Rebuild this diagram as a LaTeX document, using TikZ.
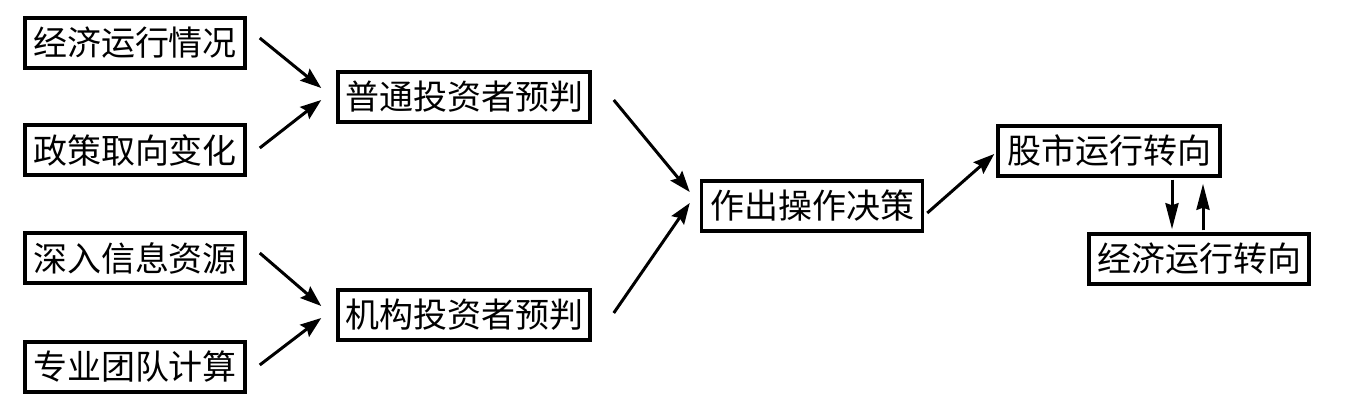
\documentclass[tikz,border=0pt]{standalone}
\usepackage{fontspec}
\newfontfamily\cjk{Noto Sans CJK SC}
\usetikzlibrary{arrows.meta}
\begin{document}
\begin{tikzpicture}[x=1pt,y=1pt,
  box/.style={draw,line width=3.5pt,inner sep=0pt,minimum height=50pt,font=\cjk\fontsize{34}{34}\selectfont},
  arr/.style={-{Stealth[length=21pt,width=15pt,inset=3pt]},line width=3pt},
  varr/.style={-{Stealth[length=26pt,width=13pt,inset=2pt]},line width=3pt}]
\useasboundingbox (0,0) rectangle (1366,-417);
\node[box,minimum width=220pt] (a1) at (135,-43) {经济运行情况};
\node[box,minimum width=220pt] (a2) at (135,-150) {政策取向变化};
\node[box,minimum width=220pt] (a3) at (135,-258) {深入信息资源};
\node[box,minimum width=220pt] (a4) at (135,-367) {专业团队计算};
\node[box,minimum width=252pt] (p1) at (464,-97) {普通投资者预判};
\node[box,minimum width=252pt] (p2) at (464,-315) {机构投资者预判};
\node[box,minimum width=221pt] (d) at (812,-206) {作出操作决策};
\node[box,minimum width=222pt] (s) at (1109,-151) {股市运行转向};
\node[box,minimum width=220pt] (e) at (1199,-259) {经济运行转向};
\draw[arr] ([xshift=13pt,yshift=5pt]a1.east) -- ([xshift=-15pt,yshift=9pt]p1.west);
\draw[arr] ([xshift=13pt,yshift=2pt]a2.east) -- ([xshift=-15pt,yshift=-3pt]p1.west);
\draw[arr] ([xshift=13pt,yshift=5pt]a3.east) -- ([xshift=-15pt,yshift=9pt]p2.west);
\draw[arr] ([xshift=13pt,yshift=2pt]a4.east) -- ([xshift=-15pt,yshift=-3pt]p2.west);
\draw[arr] ([xshift=22pt,yshift=-3pt]p1.east) -- ([xshift=-10pt,yshift=14pt]d.west);
\draw[arr] ([xshift=22pt,yshift=2pt]p2.east) -- ([xshift=-10pt,yshift=3pt]d.west);
\draw[arr] ([xshift=3pt,yshift=-7pt]d.east) -- ([xshift=-2pt,yshift=-3pt]s.west);
\draw[varr] ([xshift=63pt,yshift=-2pt]s.south) -- ([xshift=-27pt,yshift=3pt]e.north);
\draw[varr] ([xshift=4pt,yshift=2pt]e.north) -- ([xshift=94pt,yshift=-6pt]s.south);
\end{tikzpicture}
\end{document}
